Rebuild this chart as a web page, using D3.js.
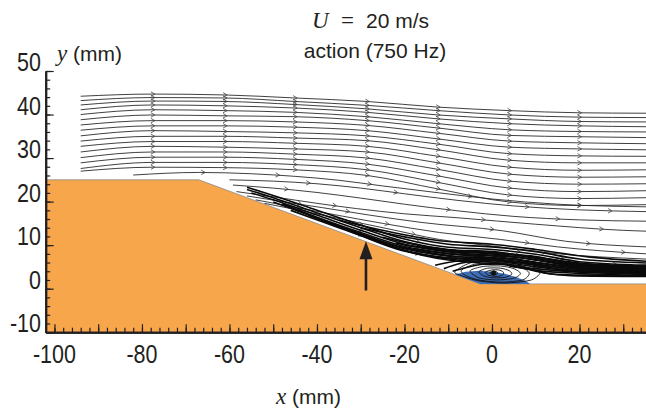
<!DOCTYPE html>
<html><head><meta charset="utf-8">
<script src="https://cdn.jsdelivr.net/npm/d3@7"></script>
<style>
body{margin:0;background:#fff;}
svg{display:block;}
.tick-lbl{font-family:"Liberation Sans",Arial,sans-serif;font-size:25px;fill:#231f20;}
.ttl{font-family:"Liberation Sans",Arial,sans-serif;font-size:21px;fill:#231f20;}
.ser{font-family:"Liberation Serif","Times New Roman",serif;font-style:italic;}
</style></head><body>
<svg id="c" width="646" height="412"></svg>
<script>
// ---------------- data (mm) ----------------
const xTickLabels = [-100,-80,-60,-40,-20,0,20];
const yTickLabels = [-10,0,10,20,30,40,50];

// wall / ramp surface
const wallX = [-102, -67, -2.7, 35.2];
const wallY = [25, 25, 1.1, 1.1];

// upper streamlines, y values at these stations
const upperX = [-94, -77.5, -61, -45, -28.5, -12.3, 4, 20, 35.2];
const upperY = [
  [44.2,44.7,44.5,43.8,43.0,41.7,40.9,40.4,40.3],
  [43.2,43.9,43.8,43.0,42.1,40.9,39.9,39.4,39.3],
  [42.2,43.1,43.0,42.3,41.3,39.9,39.0,38.4,38.3],
  [41.1,42.2,42.0,41.5,40.5,39.0,37.9,37.4,37.2],
  [40.0,41.1,40.9,40.5,39.5,37.9,36.5,36.1,36.0],
  [38.8,39.9,39.7,39.5,38.6,36.9,35.2,34.9,34.7],
  [37.6,38.6,38.6,38.3,37.5,35.7,33.9,33.5,33.3],
  [36.4,37.4,37.4,37.1,36.3,34.4,32.5,32.1,31.9],
  [35.1,36.3,36.1,35.8,35.1,33.2,31.0,30.5,30.4],
  [33.9,35.0,35.0,34.6,34.0,31.9,29.5,28.9,28.9],
  [32.7,33.8,33.8,33.4,32.7,30.4,27.9,27.2,27.3],
  [31.4,32.7,32.5,32.1,31.4,28.9,26.3,25.6,25.7],
  [30.1,31.4,31.4,30.9,30.0,27.4,24.7,24.0,24.1],
  [28.9,30.2,30.2,29.7,28.6,25.9,23.1,22.3,22.5],
  [27.6,29.0,29.0,28.5,27.3,24.4,21.5,20.7,20.9],
  [27.0,27.9,27.8,27.3,26.0,22.9,19.9,19.1,19.3]
];
const upperArrowX = [-77.5, -61, -45, -28.5, -12.3, 4, 20];

// streamlines leaving the ramp region
const lowerLines = [
  [[-82,26.1],[-67,26.7],[-55,26.4],[-45,25.8],[-35,24.9],[-25,23.6],[-12,22.0],[0,20.6],[15,19.4],[35.2,18.8]],
  [[-60,25.0],[-50,24.7],[-40,24.1],[-30,23.1],[-20,21.8],[-8,20.3],[5,19.0],[20,18.1],[35.2,17.7]],
  [[-59.2,23.8],[-50,23.1],[-40,22.1],[-30,20.8],[-20,19.4],[-8,17.9],[5,16.6],[20,15.8],[35.2,15.5]],
  [[-58.4,22.3],[-50,21.1],[-40,19.6],[-31,18.4],[-20,17.2],[-8,16.3],[10,14.8],[30,13.4],[35.2,13.2]],
  [[-56,21.3],[-46,19.7],[-38.7,18.6],[-28,16.9],[-16,15.2],[2.4,13.3],[16.8,10.9],[35.2,9.6]],
  [[-54,20.4],[-45,18.7],[-36,17.0],[-25,15.0],[-12,12.9],[2,11.3],[15,9.6],[35.2,8.0]],
  [[-52,19.6],[-44,18.0],[-34,15.9],[-24,13.8],[-12,11.3],[0,9.8],[14,8.1],[35.2,6.8]]
];
const lowerArrowX = [
  [-66,-49,-28,-5,20],
  [-42,-22,8,27],
  [-47,-10,15],
  [-36,-2,25],
  [-33,0,22],
  [-24,8,30],
  [-18,12]
];

// dense shear-layer bundle
const shearLines = [
  [[-56,23.3],[-50,21.4],[-40,18.0],[-30,14.6],[-20,11.4],[-10,9.5],[0,9.0],[10,7.9],[20,6.2],[35.2,5.4]],
  [[-56,22.8],[-50,20.9],[-40,17.4],[-30,14.0],[-20,10.8],[-10,9.0],[0,8.5],[10,7.2],[20,5.7],[35.2,5.0]],
  [[-55,22.0],[-50,20.4],[-40,16.9],[-30,13.4],[-20,10.2],[-10,8.5],[0,8.0],[10,6.6],[20,5.3],[35.2,4.6]],
  [[-48,19.5],[-40,16.4],[-30,12.9],[-20,9.7],[-10,8.0],[0,7.5],[10,6.0],[20,4.9],[35.2,4.3]],
  [[-45,18.2],[-38,15.4],[-30,12.5],[-20,9.2],[-10,7.5],[0,7.0],[10,5.5],[20,4.5],[35.2,4.0]],
  [[-42,16.9],[-35,14.3],[-28,11.6],[-20,8.8],[-12,7.3],[-5,6.7],[0,6.5],[10,5.0],[20,4.1],[35.2,3.7]],
  [[-38,15.5],[-30,12.2],[-22,9.2],[-15,7.6],[-8,6.6],[0,6.1],[10,4.6],[20,3.8],[35.2,3.4]],
  [[-32,13.2],[-24,10.1],[-16,7.7],[-10,6.6],[-4,6.0],[2,5.6],[10,4.2],[20,3.5],[35.2,3.1]],
  [[-25,11.8],[-15,9.6],[-5,8.4],[5,7.8],[12,6.9],[20,5.9],[35.2,5.2]],
  [[-22,10.5],[-12,8.7],[-3,7.8],[6,7.2],[14,6.0],[22,5.0],[35.2,4.5]],
  [[-18,9.3],[-10,8.1],[-2,7.3],[6,6.6],[14,5.4],[24,4.4],[35.2,4.0]],
  [[-15,8.2],[-8,7.4],[0,6.8],[8,6.0],[16,4.8],[26,4.0],[35.2,3.6]],
  [[-12,7.2],[-6,6.9],[2,6.5],[9,5.6],[16,4.4],[26,3.7],[35.2,3.3]],
  [[-30,14.0],[-20,11.9],[-10,10.2],[0,9.6],[10,8.5],[20,6.8],[35.2,5.9]],
  [[-35,15.8],[-25,13.4],[-12,11.0],[0,10.2],[10,9.0],[22,7.3],[35.2,6.3]],
  [[-50,19.9],[-40,16.3],[-30,12.6],[-22,9.9],[-15,8.4],[-8,7.2]],
  [[-46,18.0],[-38,15.1],[-30,12.2],[-24,10.0]],
  [[-8,8.6],[0,8.2],[8,7.3],[15,6.1],[25,5.0],[35.2,4.7]],
  [[-6,7.9],[2,7.6],[10,6.6],[17,5.4],[27,4.5],[35.2,4.2]],
  [[-4,7.1],[4,6.9],[11,5.9],[18,4.9],[28,4.0],[35.2,3.8]],
  [[2,6.3],[8,5.7],[14,4.6],[22,3.9],[35.2,3.5]],
  [[-20,10.0],[-10,8.8],[0,8.3],[10,7.4],[20,5.6],[35.2,4.8]],
  [[-11,4.6],[-8,5.6],[-4,6.3],[0,6.4],[4,6.0]],
  [[-9,4.0],[-6,4.8],[-2,5.6],[2,5.7]],
  [[-13,5.4],[-9,6.2],[-5,6.6]],
  [[4,5.2],[8,4.5],[12,3.6],[18,3.0],[35.2,2.8]],
  [[6,5.4],[10,4.2],[14,3.3],[22,3.1],[35.2,3.0]]
];
const shearArrowX = [-44,-30,-17,6,16,28];

// recirculation bubble
const vortexRings = [
  [[-8.5,3.9],[-5,5.9],[1,6.6],[7,5.8],[11,4.0],[9,2.0],[3,1.3],[-3,1.8],[-7,3.0]],
  [[-7,4.2],[-4,5.6],[1,6.0],[6,5.3],[8.5,3.6],[7,2.0],[2,1.5],[-3,2.0],[-6,3.0]],
  [[-5,4.1],[-2,5.1],[2,5.2],[5,4.6],[6.5,3.5],[5,2.4],[1,2.0],[-3,2.5]],
  [[-3,3.9],[-1,4.7],[2,4.7],[4,4.1],[4.5,3.3],[3,2.6],[0,2.5],[-2,3.0]],
  [[-1.5,3.8],[0,4.3],[1.5,4.3],[2.6,3.8],[2.4,3.1],[1,2.8],[-0.8,3.1]],
  [[-0.5,3.7],[0.4,4.0],[1.2,3.8],[1.1,3.3],[0.2,3.2]]
];
const vortexCentre = [0.4, 3.6];
const backflowZone = [[-8.5,3.26],[-6,3.9],[-3,4.1],[0,3.9],[3,3.4],[5.5,2.7],[7.5,1.9],[8.8,1.1],[-2.7,1.1]];

// actuator arrow: x, tail y, tip y
const forcingArrow = [-28.8, -0.4, 10.9];

// ---------------- drawing ----------------
const svg = d3.select("#c");
const x = d3.scaleLinear().domain([-102, 35.2]).range([45.7, 646]);
const y = d3.scaleLinear().domain([-10, 50]).range([332.2, 71]);

svg.append("defs").append("clipPath").attr("id","clip").append("rect")
  .attr("x", x(-102)).attr("y", y(50)).attr("width", x(35.2)-x(-102)).attr("height", y(-10)-y(50));
const plot = svg.append("g").attr("clip-path","url(#clip)");

const lin = d3.line().x(d=>x(d[0])).y(d=>y(d[1]));
const smooth = d3.line().x(d=>x(d[0])).y(d=>y(d[1])).curve(d3.curveMonotoneX);
const closed = d3.line().x(d=>x(d[0])).y(d=>y(d[1])).curve(d3.curveCardinalClosed.tension(0.2));

const wall = wallX.map((v,i)=>[v, wallY[i]]);
const body = [[-102,-10]].concat(wall).concat([[35.2,-10]]);
plot.append("path").attr("d", lin(body)+"Z").attr("fill","#f7a64c");
plot.append("path").attr("d", lin(wall)).attr("fill","none").attr("stroke","#8c8c8c").attr("stroke-width",0.8);

// blue backflow zone
plot.append("path")
  .attr("d", d3.line().x(d=>x(d[0])).y(d=>y(d[1])).curve(d3.curveLinearClosed)(backflowZone))
  .attr("fill","#3f6db5");

const lineG = plot.append("g").attr("fill","none").attr("stroke","#2a2a2a").attr("stroke-width",0.9);

function chevron(node, xv){
  const L = node.getTotalLength();
  const px = x(xv);
  const p0 = node.getPointAtLength(0), pL = node.getPointAtLength(L);
  if (px < p0.x || px > pL.x) return null;
  let lo=0, hi=L;
  for (let i=0;i<28;i++){ const m=(lo+hi)/2; if (node.getPointAtLength(m).x < px) lo=m; else hi=m; }
  const p = node.getPointAtLength(lo);
  const a = node.getPointAtLength(Math.max(0,lo-2)), b = node.getPointAtLength(Math.min(L,lo+2));
  return {x:p.x, y:p.y, ang: Math.atan2(b.y-a.y, b.x-a.x)*180/Math.PI};
}
const chevG = plot.append("g").attr("fill","none").attr("stroke","#444").attr("stroke-width",0.8);
function addChevrons(node, xs){
  xs.forEach(xv=>{
    const c = chevron(node, xv);
    if (!c) return;
    chevG.append("path").attr("d","M-4,-2.2L0,0L-4,2.2")
      .attr("transform",`translate(${c.x+2},${c.y}) rotate(${c.ang})`);
  });
}

upperY.forEach(row=>{
  const pts = row.map((v,i)=>[upperX[i], v]);
  const p = lineG.append("path").attr("d", smooth(pts));
  addChevrons(p.node(), upperArrowX);
});
lowerLines.forEach((pts,k)=>{
  const p = lineG.append("path").attr("d", smooth(pts));
  addChevrons(p.node(), lowerArrowX[k]);
});
const shearG = plot.append("g").attr("fill","none").attr("stroke","#0a0a0a").attr("stroke-width",1.6);
shearLines.forEach((pts,k)=>{
  const p = shearG.append("path").attr("d", smooth(pts));
  if (k < 8 && k % 2 === 0) addChevrons(p.node(), shearArrowX);
});
const vG = plot.append("g").attr("fill","none").attr("stroke","#111").attr("stroke-width",0.9);
vortexRings.forEach(r=>vG.append("path").attr("d", closed(r)));
vG.append("circle").attr("cx", x(vortexCentre[0])).attr("cy", y(vortexCentre[1])).attr("r",2.2).attr("fill","#111");

// actuator arrow
const ax = x(forcingArrow[0]), tailY = y(forcingArrow[1]), tipY = y(forcingArrow[2]);
plot.append("line").attr("x1",ax).attr("x2",ax).attr("y1",tailY).attr("y2",tipY+14)
  .attr("stroke","#231f20").attr("stroke-width",2.6);
plot.append("path").attr("d",`M${ax},${tipY}L${ax-6.5},${tipY+18}L${ax+6.5},${tipY+18}Z`).attr("fill","#231f20");

// axes
const minorX = d3.range(-100, 36, 2), majorX = d3.range(-100, 36, 10);
const minorY = d3.range(-10, 51, 2), majorY = d3.range(-10, 51, 10);
const axG = svg.append("g").attr("stroke","#231f20");
axG.append("g").attr("transform",`translate(0,${y(-10)})`)
  .call(d3.axisBottom(x).tickValues(minorX).tickSize(-4.5).tickSizeOuter(0).tickFormat(""));
axG.append("g").attr("transform",`translate(0,${y(-10)})`)
  .call(d3.axisBottom(x).tickValues(majorX).tickSize(-8).tickSizeOuter(0).tickFormat(""));
axG.append("g").attr("transform",`translate(${x(-102)},0)`)
  .call(d3.axisLeft(y).tickValues(minorY).tickSize(-4.5).tickSizeOuter(0).tickFormat(""));
axG.append("g").attr("transform",`translate(${x(-102)},0)`)
  .call(d3.axisLeft(y).tickValues(majorY).tickSize(-8).tickSizeOuter(0).tickFormat(""));
axG.selectAll(".domain").attr("stroke","#231f20").attr("stroke-width",2);
axG.selectAll(".tick line").attr("stroke","#231f20").attr("stroke-width",1.2);

// condensed tick labels
svg.selectAll(".xl").data(xTickLabels).join("text").attr("class","tick-lbl")
  .attr("transform", d=>`translate(${x(d)},363) scale(0.86,1)`).attr("text-anchor","middle").text(d=>d);
svg.selectAll(".yl").data(yTickLabels).join("text").attr("class","tick-lbl")
  .attr("transform", d=>`translate(41,${y(d)}) scale(0.86,1)`).attr("text-anchor","end").text(d=>d);

// titles
const t1 = svg.append("text").attr("class","ttl").attr("y",28);
t1.append("tspan").attr("class","ser").attr("font-size","23px").attr("x",312).text("U");
t1.append("tspan").attr("font-family","Liberation Serif").attr("font-size","23px").attr("x",341).text("=");
t1.append("tspan").attr("x",366).text("20 m/s");
svg.append("text").attr("class","ttl").attr("x",375).attr("y",58).attr("text-anchor","middle").text("action (750 Hz)");

const yt = svg.append("text").attr("class","ttl").attr("x",57).attr("y",61);
yt.append("tspan").attr("class","ser").attr("font-size","23px").text("y");
yt.append("tspan").text(" (mm)");
const xt = svg.append("text").attr("class","ttl").attr("x",276).attr("y",404);
xt.append("tspan").attr("class","ser").attr("font-size","23px").text("x");
xt.append("tspan").text(" (mm)");
</script>
</body></html>
